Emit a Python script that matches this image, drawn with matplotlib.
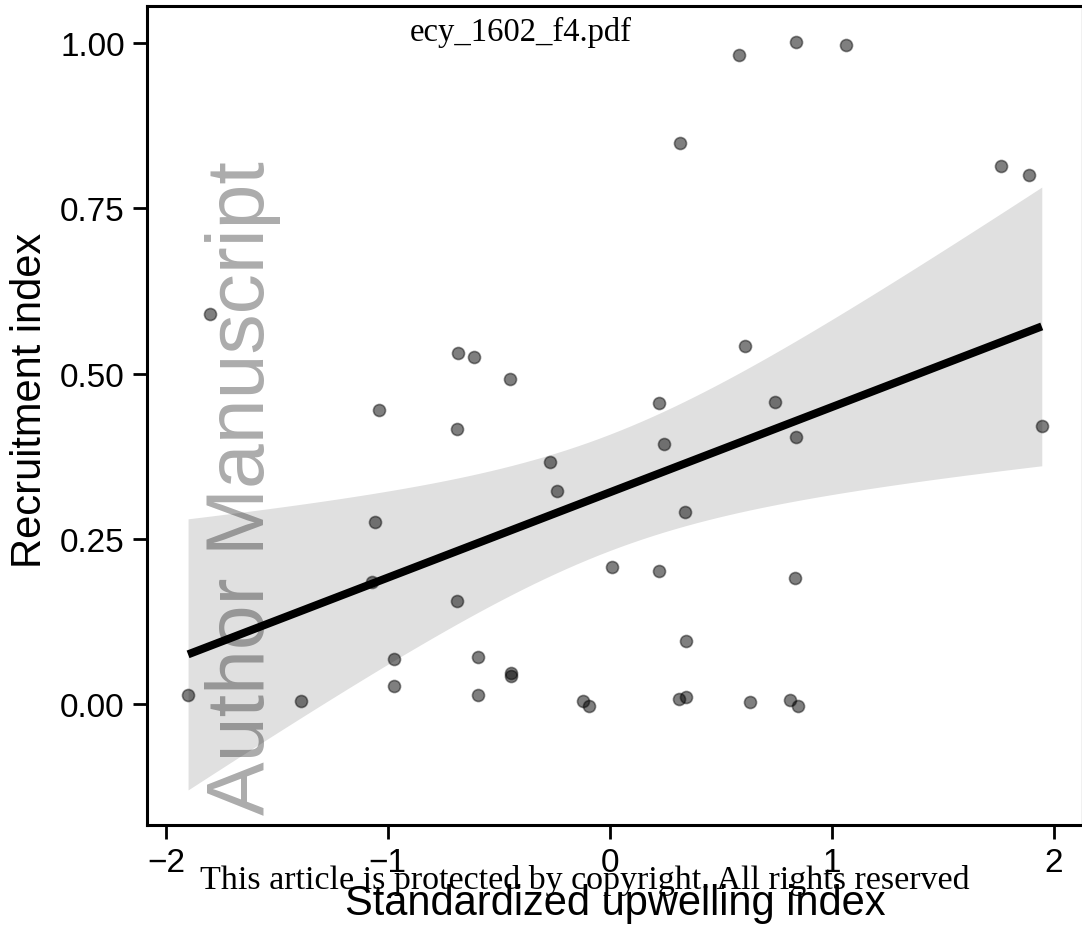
import matplotlib
matplotlib.use('Agg')
import matplotlib.pyplot as plt
import numpy as np

# data
upwelling = [-1.90, -1.80, -1.39, -1.06, -1.04, -1.07, -0.97, -0.97, -0.69, -0.69,
             -0.685, -0.61, -0.595, -0.595, -0.45, -0.446, -0.446, -0.268, -0.239,
             -0.122, -0.095, 0.009, 0.221, 0.221, 0.243, 0.315, 0.338, 0.342, 0.311,
             0.342, 0.581, 0.838, 1.063, 1.761, 1.887, 0.608, 0.743, 0.838, 1.946,
             0.833, 0.631, 0.811, 0.847]
recruitment = [0.014, 0.590, 0.005, 0.275, 0.445, 0.185, 0.068, 0.027, 0.156, 0.416,
               0.531, 0.525, 0.071, 0.014, 0.491, 0.047, 0.042, 0.366, 0.322,
               0.005, -0.003, 0.207, 0.455, 0.201, 0.393, 0.849, 0.290, 0.096, 0.008,
               0.011, 0.982, 1.002, 0.997, 0.814, 0.800, 0.542, 0.457, 0.404, 0.421,
               0.191, 0.003, 0.006, -0.003]
xticks = [-2, -1, 0, 1, 2]
yticks = [0.00, 0.25, 0.50, 0.75, 1.00]

x = np.array(upwelling)
y = np.array(recruitment)

# linear fit with 95% confidence band (like geom_smooth(method='lm'))
n = len(x)
slope, intercept = np.polyfit(x, y, 1)
resid = y - (intercept + slope * x)
s = np.sqrt(np.sum(resid ** 2) / (n - 2))
sxx = np.sum((x - x.mean()) ** 2)
xs = np.linspace(x.min(), x.max(), 80)
fit = intercept + slope * xs
half = 2.017 * s * np.sqrt(1 / n + (xs - x.mean()) ** 2 / sxx)

fig = plt.figure(figsize=(10.82, 9.28), dpi=100)
ax = fig.add_axes([147 / 1082, 1 - 826 / 928, 934.5 / 1082, 819 / 928])

ax.fill_between(xs, fit - half, fit + half, color='#e0e0e0', lw=0, zorder=1)
ax.scatter(x, y, s=75, facecolor=(0, 0, 0, 0.5), edgecolor=(0, 0, 0, 0.45),
           linewidths=1.2, zorder=2)
ax.plot(xs, fit, color='black', lw=5.8, solid_capstyle='butt', zorder=3)

ax.set_xlim(-2.085, 2.125)
ax.set_ylim(-0.183, 1.056)
ax.set_xticks(xticks)
ax.set_yticks(yticks)
ax.set_xticklabels([f'{t}'.replace('-', '\u2212') for t in xticks],
                   fontsize=24, family='Liberation Sans')
ax.set_yticklabels([f'{t:.2f}' for t in yticks], fontsize=24, family='Liberation Sans')
ax.tick_params(width=2, length=10, pad=6, color='black')
for sp in ax.spines.values():
    sp.set_linewidth(2.2)
ax.spines['right'].set_color('#bbbbbb')
ax.spines['right'].set_linewidth(1)

ax.set_xlabel('Standardized upwelling index', fontsize=30, family='Liberation Sans')
ax.set_ylabel('Recruitment index', fontsize=30, family='Liberation Sans')
ax.xaxis.set_label_coords(0.501, -0.071)
ax.yaxis.set_label_coords(-0.104, 0.52)

# overlays
fig.text(243 / 1082, 1 - 488 / 928, 'Author Manuscript', rotation=90,
         fontsize=58, family='Liberation Sans', color='black', alpha=0.33,
         ha='center', va='center', zorder=10)
fig.text(521 / 1082, 1 - 32 / 928, 'ecy_1602_f4.pdf', fontsize=23.5,
         family='Liberation Serif', ha='center', va='center')
fig.text(585 / 1082, 1 - 881 / 928,
         'This article is protected by copyright. All rights reserved',
         fontsize=24.5, family='Liberation Serif', ha='center', va='center', zorder=10)

fig.savefig('out.png', dpi=100)
